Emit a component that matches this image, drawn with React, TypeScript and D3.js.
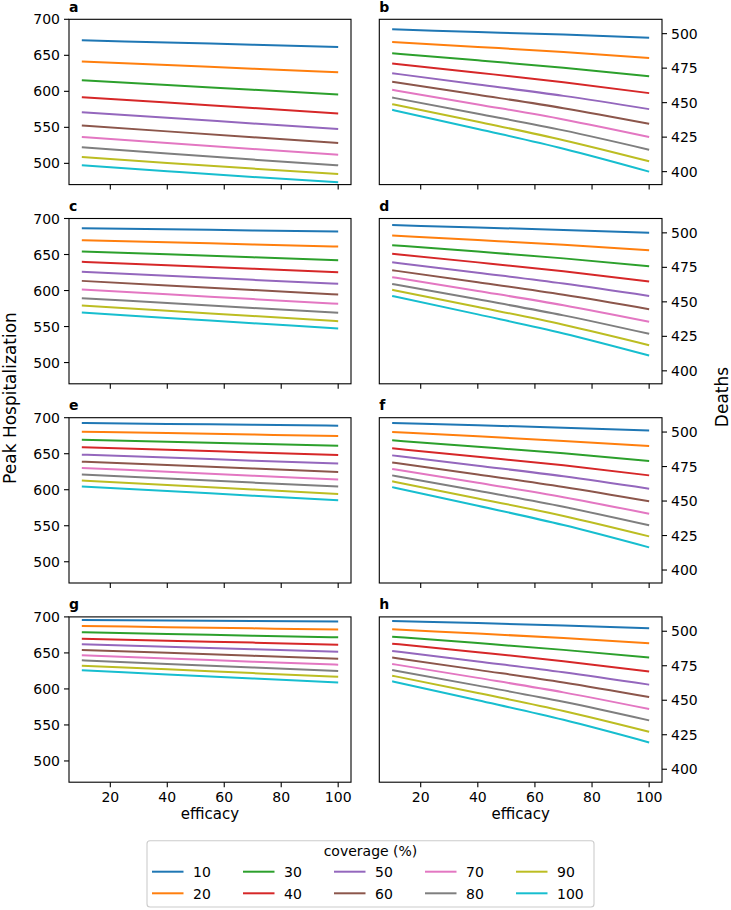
import React from "react";
import * as d3 from "d3";

const efficacy = [10, 40, 70, 100];
const coverage = [10, 20, 30, 40, 50, 60, 70, 80, 90, 100];
const colors = ["#1f77b4", "#ff7f0e", "#2ca02c", "#d62728", "#9467bd", "#8c564b", "#e377c2", "#7f7f7f", "#bcbd22", "#17becf"];

// Peak hospitalization panels (left column)
const panelA = [
  [670.9, 667.8, 664.7, 661.6],
  [641.3, 636.4, 631.5, 626.6],
  [615.5, 608.9, 602.2, 595.6],
  [591.9, 584.4, 576.8, 569.3],
  [571.1, 563.2, 555.4, 547.6],
  [552.7, 544.4, 536.2, 528.2],
  [536.5, 528.2, 520.0, 512.0],
  [522.2, 513.6, 505.2, 497.2],
  [508.8, 500.6, 492.7, 485.2],
  [497.2, 489.0, 481.0, 473.7],
];
const panelC = [
  [686.6, 685.0, 683.5, 681.9],
  [669.9, 667.0, 664.0, 661.1],
  [654.2, 650.2, 646.1, 642.1],
  [639.8, 635.0, 630.3, 625.5],
  [625.9, 620.4, 614.8, 609.3],
  [613.4, 607.1, 600.7, 594.4],
  [601.4, 594.8, 588.1, 581.5],
  [589.4, 582.6, 575.8, 569.0],
  [579.2, 571.9, 564.7, 557.4],
  [569.4, 562.0, 554.6, 547.2],
];
const panelE = [
  [692.6, 691.4, 690.1, 688.9],
  [680.6, 678.6, 676.6, 674.6],
  [669.5, 666.7, 664.0, 661.2],
  [658.9, 655.4, 651.8, 648.3],
  [648.7, 644.6, 640.4, 636.3],
  [639.0, 634.2, 629.5, 624.7],
  [630.3, 624.9, 619.5, 614.1],
  [621.0, 615.5, 609.9, 604.4],
  [612.7, 606.5, 600.4, 594.2],
  [604.4, 598.1, 591.8, 585.5],
];
const panelG = [
  [695.8, 695.0, 694.3, 693.5],
  [687.5, 685.8, 684.1, 682.4],
  [678.7, 676.4, 674.0, 671.7],
  [669.8, 667.0, 664.3, 661.5],
  [661.9, 658.5, 655.1, 651.7],
  [654.1, 650.1, 646.0, 642.0],
  [646.6, 642.3, 637.9, 633.6],
  [639.7, 634.7, 629.8, 624.8],
  [632.3, 627.2, 622.0, 616.9],
  [625.8, 620.2, 614.6, 609.0],
];
// Deaths panels (right column)
const panelB = [
  [503.1, 501.2, 499.3, 497.1],
  [494.0, 490.4, 486.7, 482.4],
  [485.8, 480.7, 475.3, 469.2],
  [478.3, 471.7, 464.8, 456.9],
  [471.3, 463.2, 454.9, 445.3],
  [465.1, 455.7, 446.0, 434.7],
  [459.3, 448.7, 437.8, 425.1],
  [453.7, 442.0, 429.9, 415.9],
  [448.9, 436.1, 422.8, 407.5],
  [444.8, 430.9, 416.6, 400.0],
];
const panelD = [
  [505.6, 503.9, 502.1, 500.0],
  [498.1, 494.8, 491.4, 487.4],
  [491.1, 486.4, 481.5, 475.8],
  [484.8, 478.6, 472.1, 464.7],
  [478.7, 471.1, 463.3, 454.3],
  [472.9, 464.2, 455.1, 444.7],
  [467.9, 457.9, 447.5, 435.5],
  [463.0, 451.8, 440.2, 426.8],
  [458.7, 446.3, 433.4, 418.6],
  [454.3, 440.9, 427.1, 411.1],
];
const panelF = [
  [506.5, 504.9, 503.2, 501.2],
  [500.0, 496.9, 493.6, 489.9],
  [494.0, 489.4, 484.6, 479.0],
  [488.2, 482.1, 475.9, 468.6],
  [483.1, 475.6, 467.9, 458.9],
  [478.0, 469.3, 460.2, 449.8],
  [473.2, 463.2, 452.8, 440.8],
  [468.6, 457.4, 445.8, 432.4],
  [464.3, 451.9, 439.2, 424.4],
  [460.1, 446.6, 432.6, 416.4],
];
const panelH = [
  [507.5, 505.9, 504.2, 502.2],
  [501.5, 498.3, 495.1, 491.3],
  [496.1, 491.4, 486.5, 480.9],
  [491.0, 484.8, 478.3, 470.9],
  [485.7, 478.1, 470.3, 461.3],
  [480.9, 472.0, 462.9, 452.3],
  [476.3, 466.2, 455.7, 443.6],
  [471.9, 460.6, 448.9, 435.4],
  [467.8, 455.2, 442.2, 427.1],
  [463.7, 450.0, 435.8, 419.4],
];

const xTicks = [20, 40, 60, 80, 100];
const leftTicks = [500, 550, 600, 650, 700];
const rightTicks = [400, 425, 450, 475, 500];
const leftDomain = [470.5, 700];
const rightDomain = [390.6, 510.4];
const xDomain = [5.5, 104.5];

const panels = [
  { label: "a", data: panelA, col: 0, row: 0 },
  { label: "b", data: panelB, col: 1, row: 0 },
  { label: "c", data: panelC, col: 0, row: 1 },
  { label: "d", data: panelD, col: 1, row: 1 },
  { label: "e", data: panelE, col: 0, row: 2 },
  { label: "f", data: panelF, col: 1, row: 2 },
  { label: "g", data: panelG, col: 0, row: 3 },
  { label: "h", data: panelH, col: 1, row: 3 },
];

const FONT = "DejaVu Sans, sans-serif";
const colX = [[69, 351], [379.3, 662]];
const rowTop = [19.3, 218.5, 417.7, 616.9];
const plotH = 165.3;
const TICK = 5;

function Panel({ p }: { p: any }) {
  const [x0, x1] = colX[p.col];
  const y0 = rowTop[p.row];
  const y1 = y0 + plotH;
  const isLeft = p.col === 0;
  const x = d3.scaleLinear().domain(xDomain).range([x0, x1]);
  const y = d3.scaleLinear().domain(isLeft ? leftDomain : rightDomain).range([y1, y0]);
  const line = d3
    .line<number>()
    .x((_, i) => x(efficacy[i]))
    .y((v) => y(v))
    .curve(d3.curveMonotoneX);
  const yTicks = isLeft ? leftTicks : rightTicks;
  const bottom = p.row === 3;
  return (
    <g>
      <defs>
        <clipPath id={`clip-${p.label}`}>
          <rect x={x0} y={y0} width={x1 - x0} height={plotH} />
        </clipPath>
      </defs>
      <g clipPath={`url(#clip-${p.label})`}>
        {p.data.map((s: number[], i: number) => (
          <path key={i} d={line(s) || ""} fill="none" stroke={colors[i]} strokeWidth={2} strokeLinejoin="round" strokeLinecap="butt" />
        ))}
      </g>
      <rect x={x0} y={y0} width={x1 - x0} height={plotH} fill="none" stroke="#000" strokeWidth={1.1} />
      {xTicks.map((t) => (
        <g key={t}>
          <line x1={x(t)} x2={x(t)} y1={y1} y2={y1 + TICK} stroke="#000" strokeWidth={1.1} />
          {bottom && (
            <text x={x(t)} y={y1 + 20} textAnchor="middle" fontSize={14} fontFamily={FONT} fill="#000">{t}</text>
          )}
        </g>
      ))}
      {yTicks.map((t) => (
        <g key={t}>
          {isLeft ? (
            <>
              <line x1={x0 - TICK} x2={x0} y1={y(t)} y2={y(t)} stroke="#000" strokeWidth={1.1} />
              <text x={x0 - 9} y={y(t)} dy="0.36em" textAnchor="end" fontSize={14} fontFamily={FONT} fill="#000">{t}</text>
            </>
          ) : (
            <>
              <line x1={x1} x2={x1 + TICK} y1={y(t)} y2={y(t)} stroke="#000" strokeWidth={1.1} />
              <text x={x1 + 9} y={y(t)} dy="0.36em" textAnchor="start" fontSize={14} fontFamily={FONT} fill="#000">{t}</text>
            </>
          )}
        </g>
      ))}
      <text x={x0} y={y0 - 7.5} fontSize={14} fontWeight="bold" fontFamily={FONT} fill="#000">{p.label}</text>
      {bottom && (
        <text x={(x0 + x1) / 2} y={819} textAnchor="middle" fontSize={15} fontFamily={FONT} fill="#000">efficacy</text>
      )}
    </g>
  );
}

export default function App() {
  const legendStart = 152;
  const legendPitch = 91;
  return (
    <svg width={731} height={910} style={{ position: "absolute", left: 0, top: 0, background: "#fff" }}>
      <rect x={0} y={0} width={731} height={910} fill="#fff" />
      {panels.map((p) => (
        <Panel key={p.label} p={p} />
      ))}
      <text transform="translate(15.5,398) rotate(-90)" textAnchor="middle" fontSize={17} fontFamily={FONT} fill="#000">Peak Hospitalization</text>
      <text transform="translate(728,397) rotate(-90)" textAnchor="middle" fontSize={17} fontFamily={FONT} fill="#000">Deaths</text>
      <rect x={147} y={840.7} width={447} height={66.3} rx={3} fill="#fff" stroke="#cccccc" strokeWidth={1.1} />
      <text x={370.5} y={855.5} textAnchor="middle" fontSize={14} fontFamily={FONT} fill="#000">coverage (%)</text>
      {coverage.map((c, i) => {
        const col = Math.floor(i / 2);
        const r = i % 2;
        const lx = legendStart + col * legendPitch;
        const ly = r === 0 ? 871.7 : 893.3;
        return (
          <g key={c}>
            <line x1={lx} x2={lx + 31.5} y1={ly} y2={ly} stroke={colors[i]} strokeWidth={2} />
            <text x={lx + 41} y={ly + 5.2} fontSize={14} fontFamily={FONT} fill="#000">{c}</text>
          </g>
        );
      })}
    </svg>
  );
}
